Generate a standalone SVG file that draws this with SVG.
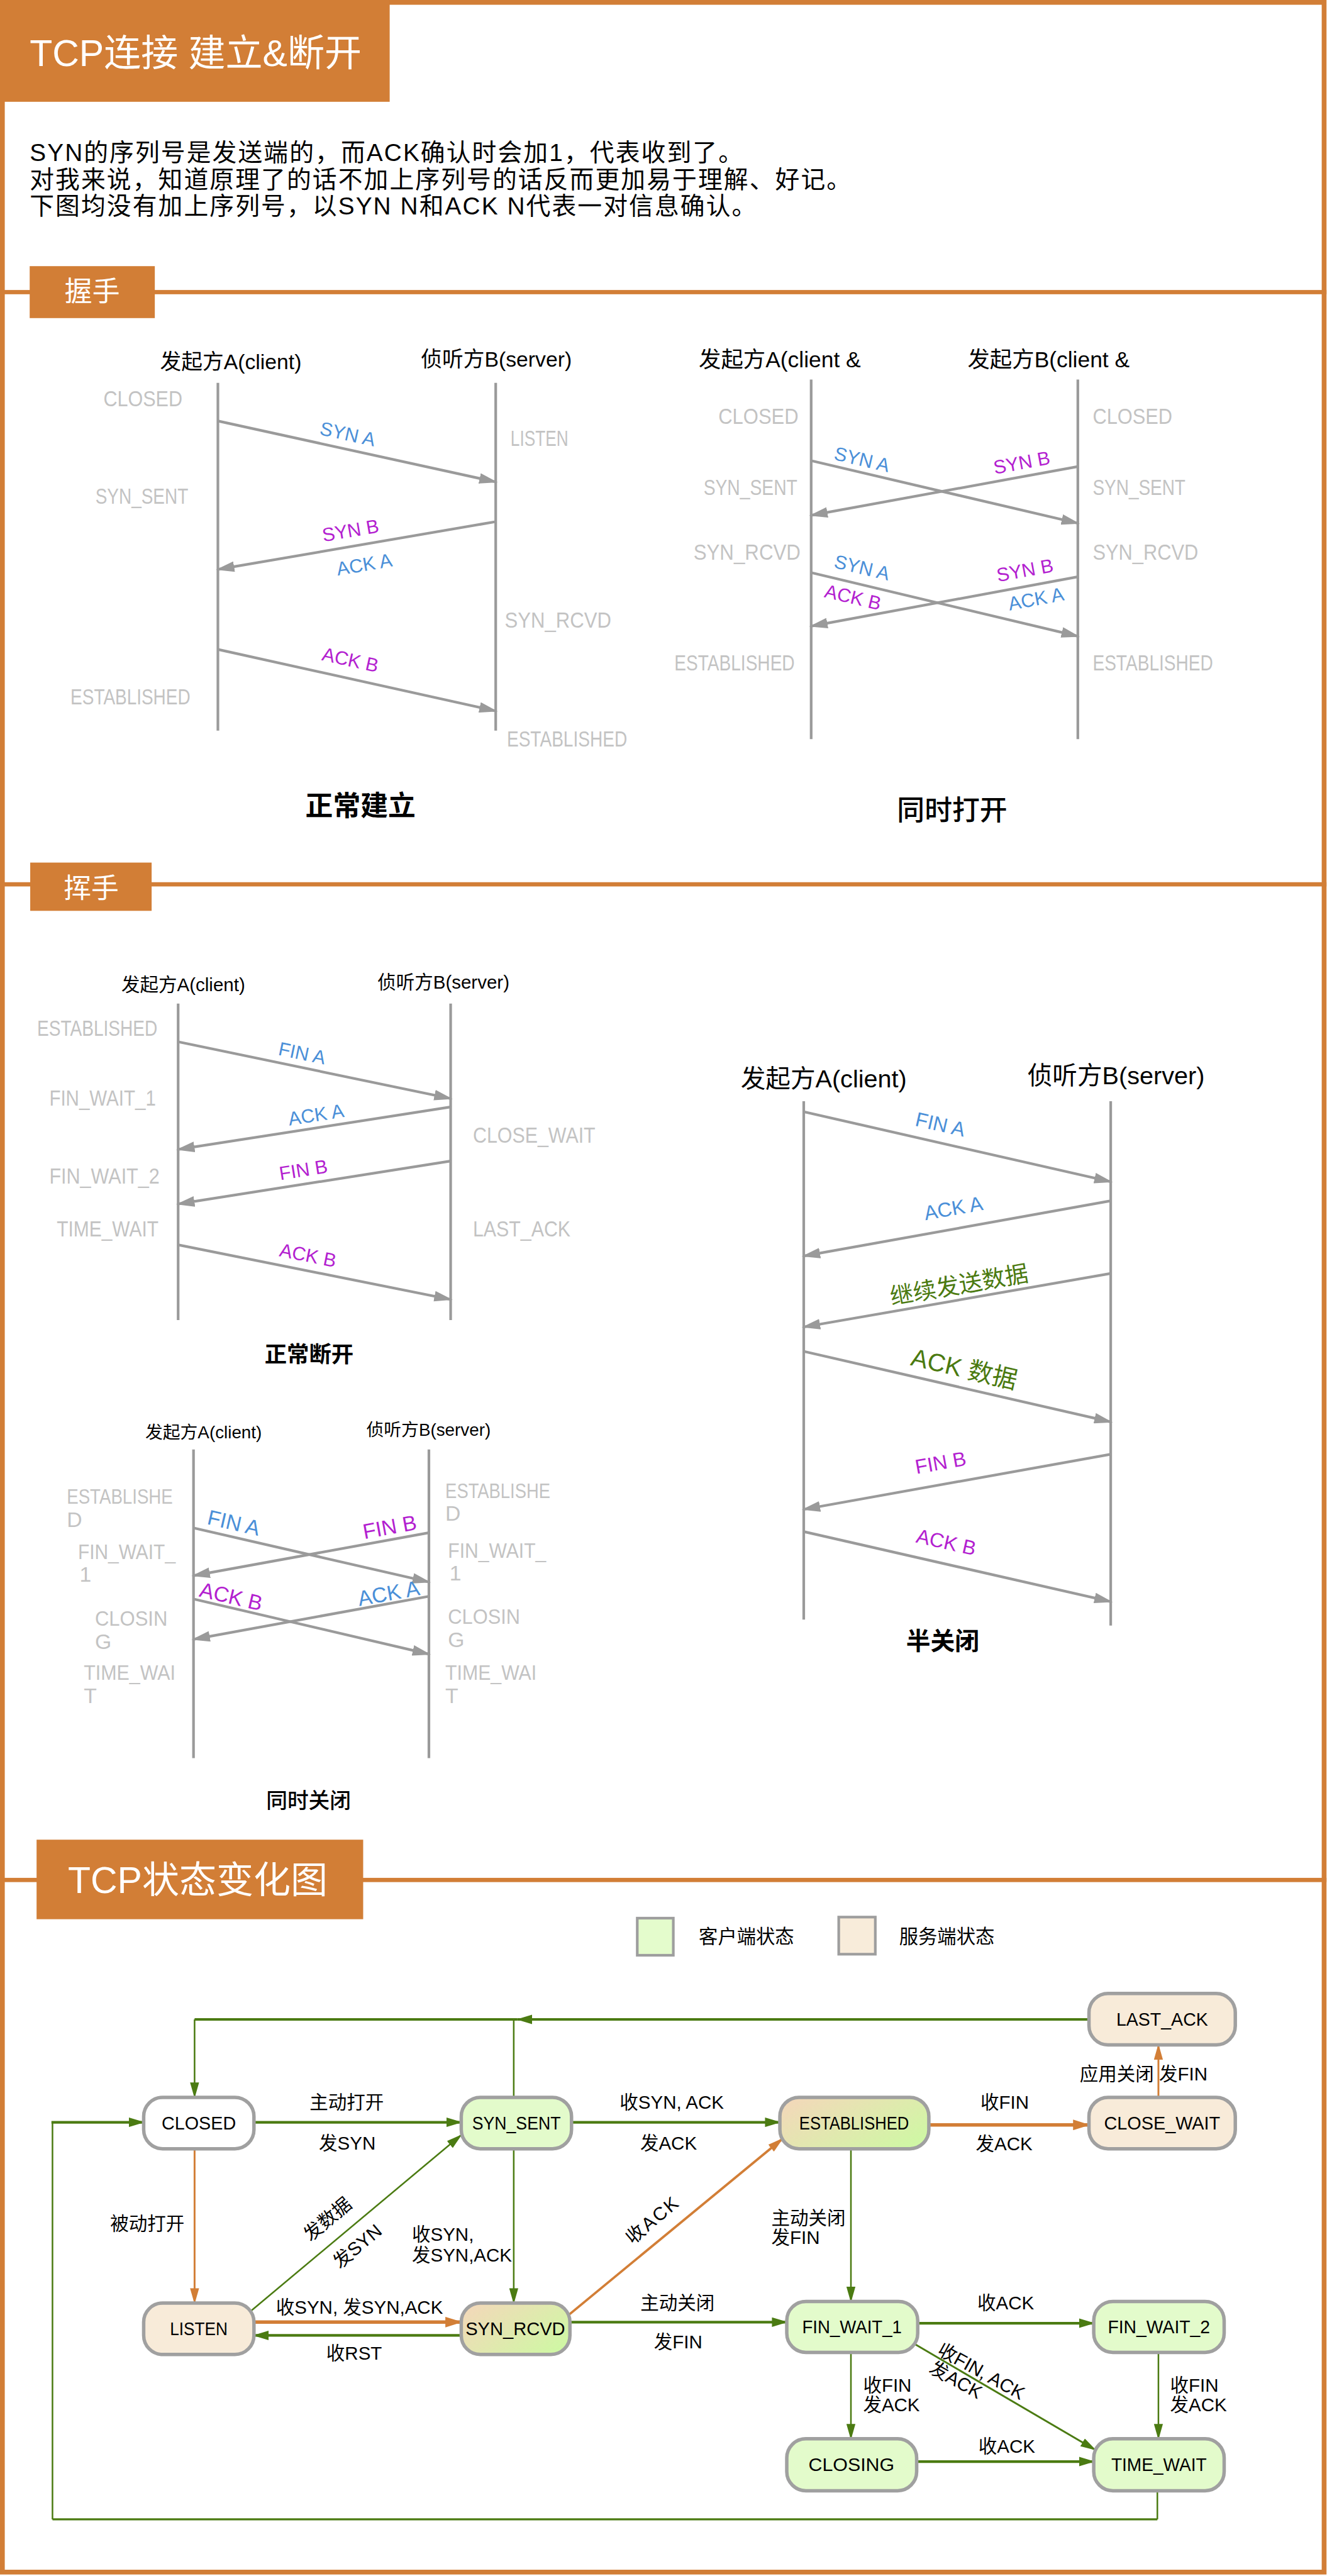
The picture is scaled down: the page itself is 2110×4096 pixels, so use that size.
<svg xmlns="http://www.w3.org/2000/svg" width="2110" height="4096" viewBox="0 0 2110 4096">
<defs>
<style>
.ll{stroke:#9a9a9a;stroke-width:5}
.msg{stroke:#9a9a9a;stroke-width:5;fill:none}
.st{font-family:"Liberation Sans",sans-serif;font-size:42px;fill:#c3c3c3}
.hd{font-family:"Liberation Sans","Noto Sans CJK SC",sans-serif;fill:#000}
.ml{font-family:"Liberation Sans","Noto Sans CJK SC",sans-serif;font-size:36px;text-anchor:middle}
.bl{fill:#4a8fd8}.mg{fill:#b31fd0}.dg{fill:#4b7a10}
.cap{font-family:"Noto Sans CJK SC",sans-serif;text-anchor:middle;fill:#000}
.sec{font-family:"Liberation Sans","Noto Sans CJK SC",sans-serif;fill:#fff}
.nd{stroke:#a0a0a0;stroke-width:6.5}
.nt{font-family:"Liberation Sans",sans-serif;font-size:36px;text-anchor:middle;fill:#000}
.lb{font-family:"Liberation Sans","Noto Sans CJK SC",sans-serif;font-size:35px;fill:#000}
.c{text-anchor:middle}
.gT{stroke:#4b7b12;stroke-width:5;fill:none}
.gt{stroke:#4b7b12;stroke-width:3;fill:none}
.oT{stroke:#d27e36;stroke-width:6.5;fill:none}
.ot{stroke:#d27e36;stroke-width:3.5;fill:none}
.or{fill:#d27e36}
</style>
<marker id="ag" markerUnits="userSpaceOnUse" markerWidth="36" markerHeight="20" refX="31" refY="10" orient="auto"><path d="M0,0 L35,10 L0,20 z" fill="#9a9a9a"/></marker>
<marker id="mgT" markerUnits="userSpaceOnUse" markerWidth="32" markerHeight="18" refX="28" refY="9" orient="auto"><path d="M0,0 L30,9 L0,18 z" fill="#4b7b12"/></marker>
<marker id="mgt" markerUnits="userSpaceOnUse" markerWidth="32" markerHeight="17" refX="28" refY="8.5" orient="auto"><path d="M0,0 L30,8.5 L0,17 z" fill="#4b7b12"/></marker>
<marker id="moT" markerUnits="userSpaceOnUse" markerWidth="34" markerHeight="20" refX="30" refY="10" orient="auto"><path d="M0,0 L32,10 L0,20 z" fill="#d27e36"/></marker>
<marker id="mot" markerUnits="userSpaceOnUse" markerWidth="32" markerHeight="17" refX="28" refY="8.5" orient="auto"><path d="M0,0 L30,8.5 L0,17 z" fill="#d27e36"/></marker>
<linearGradient id="mix" x1="0" y1="0.2" x2="1" y2="0.8"><stop offset="0" stop-color="#f2d9b9"/><stop offset="1" stop-color="#cff8a4"/></linearGradient>
</defs>
<rect x="0" y="0" width="2110" height="4096" fill="#fff"/>
<g transform="scale(0.843)">
<!-- frame -->
<rect x="4.5" y="4.5" width="2493" height="4847" fill="none" stroke="#d27e36" stroke-width="9"/>
<!-- title -->
<g id="title">
<rect x="0" y="0" width="735" height="192" class="or"/>
<text class="sec" x="56" y="125" font-size="70">TCP连接 建立&amp;断开</text>
</g>
<g id="intro" class="hd" font-size="46" letter-spacing="2.5">
<text x="56" y="304">SYN的序列号是发送端的，而ACK确认时会加1，代表收到了。</text>
<text x="56" y="355">对我来说，知道原理了的话不加上序列号的话反而更加易于理解、好记。</text>
<text x="56" y="405">下图均没有加上序列号，以SYN N和ACK N代表一对信息确认。</text>
</g>
<!-- section headers -->
<g id="sec-woshou">
<rect x="0" y="547" width="2502" height="8" class="or"/>
<rect x="56" y="502" width="236" height="98" class="or"/>
<text class="sec" x="174" y="568" font-size="52" text-anchor="middle">握手</text>
</g>
<g id="sec-huishou">
<rect x="0" y="1664" width="2502" height="8" class="or"/>
<rect x="57" y="1627" width="229" height="91" class="or"/>
<text class="sec" x="172" y="1694" font-size="52" text-anchor="middle">挥手</text>
</g>
<g id="sec-state">
<rect x="0" y="3542" width="2502" height="8" class="or"/>
<rect x="69" y="3470" width="616" height="150" class="or"/>
<text class="sec" x="128" y="3570" font-size="70">TCP状态变化图</text>
</g>

<!-- ===== 正常建立 ===== -->
<g id="normal-open">
<text class="hd" x="302" y="696" font-size="40">发起方A(client)</text>
<text class="hd" x="794" y="691" font-size="40">侦听方B(server)</text>
<line class="ll" x1="411" y1="722" x2="411" y2="1378"/>
<line class="ll" x1="935" y1="722" x2="935" y2="1378"/>
<text class="st" x="195" y="766" textLength="149" lengthAdjust="spacingAndGlyphs">CLOSED</text>
<text class="st" x="180" y="950" textLength="175" lengthAdjust="spacingAndGlyphs">SYN_SENT</text>
<text class="st" x="133" y="1328" textLength="226" lengthAdjust="spacingAndGlyphs">ESTABLISHED</text>
<text class="st" x="963" y="841" textLength="109" lengthAdjust="spacingAndGlyphs">LISTEN</text>
<text class="st" x="952" y="1184" textLength="201" lengthAdjust="spacingAndGlyphs">SYN_RCVD</text>
<text class="st" x="956" y="1408" textLength="227" lengthAdjust="spacingAndGlyphs">ESTABLISHED</text>
<line class="msg" x1="411" y1="794" x2="935" y2="909" marker-end="url(#ag)"/>
<line class="msg" x1="935" y1="984" x2="411" y2="1074" marker-end="url(#ag)"/>
<line class="msg" x1="411" y1="1225" x2="935" y2="1341" marker-end="url(#ag)"/>
<text class="ml bl" transform="translate(656,818) rotate(12.4)" y="13">SYN A</text>
<text class="ml mg" transform="translate(661,1000) rotate(-9.7)" y="13">SYN B</text>
<text class="ml bl" transform="translate(687,1064) rotate(-9.7)" y="13">ACK A</text>
<text class="ml mg" transform="translate(661,1244) rotate(12.5)" y="13">ACK B</text>
<text class="cap" x="680" y="1539" font-size="52" font-weight="bold">正常建立</text>
</g>

<!-- ===== 同时打开 ===== -->
<g id="simul-open">
<text class="hd" x="1318" y="693" font-size="42">发起方A(client &amp;</text>
<text class="hd" x="1825" y="693" font-size="42">发起方B(client &amp;</text>
<line class="ll" x1="1530" y1="716" x2="1530" y2="1394"/>
<line class="ll" x1="2033" y1="716" x2="2033" y2="1394"/>
<text class="st" x="1355" y="800" textLength="151" lengthAdjust="spacingAndGlyphs">CLOSED</text>
<text class="st" x="1327" y="934" textLength="177" lengthAdjust="spacingAndGlyphs">SYN_SENT</text>
<text class="st" x="1308" y="1056" textLength="202" lengthAdjust="spacingAndGlyphs">SYN_RCVD</text>
<text class="st" x="1272" y="1264" textLength="227" lengthAdjust="spacingAndGlyphs">ESTABLISHED</text>
<text class="st" x="2061" y="800" textLength="150" lengthAdjust="spacingAndGlyphs">CLOSED</text>
<text class="st" x="2061" y="934" textLength="175" lengthAdjust="spacingAndGlyphs">SYN_SENT</text>
<text class="st" x="2061" y="1056" textLength="199" lengthAdjust="spacingAndGlyphs">SYN_RCVD</text>
<text class="st" x="2061" y="1264" textLength="227" lengthAdjust="spacingAndGlyphs">ESTABLISHED</text>
<line class="msg" x1="1530" y1="869" x2="2033" y2="987" marker-end="url(#ag)"/>
<line class="msg" x1="2033" y1="880" x2="1530" y2="972" marker-end="url(#ag)"/>
<line class="msg" x1="1530" y1="1080" x2="2033" y2="1200" marker-end="url(#ag)"/>
<line class="msg" x1="2033" y1="1088" x2="1530" y2="1181" marker-end="url(#ag)"/>
<text class="ml bl" transform="translate(1626,866) rotate(13.2)" y="13">SYN A</text>
<text class="ml mg" transform="translate(1927,872) rotate(-10.4)" y="13">SYN B</text>
<text class="ml bl" transform="translate(1626,1070) rotate(13.4)" y="13">SYN A</text>
<text class="ml mg" transform="translate(1609,1126) rotate(13.4)" y="13">ACK B</text>
<text class="ml mg" transform="translate(1933,1075) rotate(-10.5)" y="13">SYN B</text>
<text class="ml bl" transform="translate(1954,1129) rotate(-10.5)" y="13">ACK A</text>
<text class="cap" x="1796" y="1547" font-size="52" font-weight="500">同时打开</text>
</g>

<!-- ===== 正常断开 ===== -->
<g id="normal-close">
<text class="hd" x="229" y="1870" font-size="35">发起方A(client)</text>
<text class="hd" x="712" y="1865" font-size="35">侦听方B(server)</text>
<line class="ll" x1="336" y1="1893" x2="336" y2="2490"/>
<line class="ll" x1="850" y1="1893" x2="850" y2="2490"/>
<text class="st" x="70" y="1954" textLength="227" lengthAdjust="spacingAndGlyphs">ESTABLISHED</text>
<text class="st" x="93" y="2085" textLength="201" lengthAdjust="spacingAndGlyphs">FIN_WAIT_1</text>
<text class="st" x="93" y="2233" textLength="208" lengthAdjust="spacingAndGlyphs">FIN_WAIT_2</text>
<text class="st" x="107" y="2332" textLength="192" lengthAdjust="spacingAndGlyphs">TIME_WAIT</text>
<text class="st" x="892" y="2155" textLength="231" lengthAdjust="spacingAndGlyphs">CLOSE_WAIT</text>
<text class="st" x="892" y="2332" textLength="184" lengthAdjust="spacingAndGlyphs">LAST_ACK</text>
<line class="msg" x1="336" y1="1965" x2="850" y2="2072" marker-end="url(#ag)"/>
<line class="msg" x1="850" y1="2088" x2="336" y2="2168" marker-end="url(#ag)"/>
<line class="msg" x1="850" y1="2190" x2="336" y2="2271" marker-end="url(#ag)"/>
<line class="msg" x1="336" y1="2348" x2="850" y2="2451" marker-end="url(#ag)"/>
<text class="ml bl" transform="translate(570,1986) rotate(11.8)" y="13">FIN A</text>
<text class="ml bl" transform="translate(596,2102) rotate(-8.8)" y="13">ACK A</text>
<text class="ml mg" transform="translate(572,2206) rotate(-9)" y="13">FIN B</text>
<text class="ml mg" transform="translate(581,2367) rotate(11.4)" y="13">ACK B</text>
<text class="cap" x="583" y="2569" font-size="42" font-weight="bold">正常断开</text>
</g>

<!-- ===== 半关闭 ===== -->
<g id="half-close">
<text class="hd" x="1397" y="2051" font-size="47">发起方A(client)</text>
<text class="hd" x="1938" y="2045" font-size="47">侦听方B(server)</text>
<line class="ll" x1="1516" y1="2077" x2="1516" y2="3055"/>
<line class="ll" x1="2095" y1="2077" x2="2095" y2="3066"/>
<line class="msg" x1="1516" y1="2097" x2="2095" y2="2229" marker-end="url(#ag)"/>
<line class="msg" x1="2095" y1="2265" x2="1516" y2="2369" marker-end="url(#ag)"/>
<line class="msg" x1="2095" y1="2402" x2="1516" y2="2503" marker-end="url(#ag)"/>
<line class="msg" x1="1516" y1="2549" x2="2095" y2="2682" marker-end="url(#ag)"/>
<line class="msg" x1="2095" y1="2743" x2="1516" y2="2847" marker-end="url(#ag)"/>
<line class="msg" x1="1516" y1="2889" x2="2095" y2="3021" marker-end="url(#ag)"/>
<text class="ml bl" style="font-size:38px" transform="translate(1774,2120) rotate(12.8)" y="14">FIN A</text>
<text class="ml bl" style="font-size:38px" transform="translate(1798,2278) rotate(-10.2)" y="14">ACK A</text>
<text class="ml dg" style="font-size:44px" transform="translate(1809,2423) rotate(-9.9)" y="16">继续发送数据</text>
<text class="ml dg" style="font-size:47px" transform="translate(1819,2581) rotate(12.9)" y="17">ACK 数据</text>
<text class="ml mg" style="font-size:38px" transform="translate(1774,2758) rotate(-10.2)" y="14">FIN B</text>
<text class="ml mg" style="font-size:38px" transform="translate(1785,2908) rotate(12.8)" y="14">ACK B</text>
<text class="cap" x="1778" y="3111" font-size="46" font-weight="bold">半关闭</text>
</g>

<!-- ===== 同时关闭 ===== -->
<g id="simul-close">
<text class="hd" x="274" y="2713" font-size="33">发起方A(client)</text>
<text class="hd" x="691" y="2708" font-size="33">侦听方B(server)</text>
<line class="ll" x1="365" y1="2734" x2="365" y2="3316"/>
<line class="ll" x1="809" y1="2734" x2="809" y2="3316"/>
<g class="st" style="font-size:40px">
<text x="126" y="2836" textLength="200" lengthAdjust="spacingAndGlyphs">ESTABLISHE</text>
<text x="126" y="2880">D</text>
<text x="147" y="2941" textLength="184" lengthAdjust="spacingAndGlyphs">FIN_WAIT_</text>
<text x="150" y="2983">1</text>
<text x="179" y="3066" textLength="137" lengthAdjust="spacingAndGlyphs">CLOSIN</text>
<text x="179" y="3110">G</text>
<text x="158" y="3168" textLength="173" lengthAdjust="spacingAndGlyphs">TIME_WAI</text>
<text x="158" y="3212">T</text>
<text x="840" y="2826" textLength="198" lengthAdjust="spacingAndGlyphs">ESTABLISHE</text>
<text x="840" y="2868">D</text>
<text x="845" y="2938" textLength="185" lengthAdjust="spacingAndGlyphs">FIN_WAIT_</text>
<text x="848" y="2981">1</text>
<text x="845" y="3063" textLength="136" lengthAdjust="spacingAndGlyphs">CLOSIN</text>
<text x="845" y="3107">G</text>
<text x="840" y="3168" textLength="172" lengthAdjust="spacingAndGlyphs">TIME_WAI</text>
<text x="840" y="3212">T</text>
</g>
<line class="msg" x1="365" y1="2882" x2="809" y2="2984" marker-end="url(#ag)"/>
<line class="msg" x1="809" y1="2891" x2="365" y2="2972" marker-end="url(#ag)"/>
<line class="msg" x1="365" y1="3016" x2="809" y2="3120" marker-end="url(#ag)"/>
<line class="msg" x1="809" y1="3011" x2="365" y2="3092" marker-end="url(#ag)"/>
<text class="ml bl" style="font-size:40px" transform="translate(441,2872) rotate(12.9)" y="14">FIN A</text>
<text class="ml mg" style="font-size:40px" transform="translate(735,2880) rotate(-10.3)" y="14">FIN B</text>
<text class="ml mg" style="font-size:40px" transform="translate(436,3011) rotate(13.2)" y="14">ACK B</text>
<text class="ml bl" style="font-size:40px" transform="translate(733,3005) rotate(-10.3)" y="14">ACK A</text>
<text class="cap" x="582" y="3410" font-size="40" font-weight="500">同时关闭</text>
</g>

<!-- ===== legend ===== -->
<g id="legend">
<rect x="1202" y="3618" width="68" height="70" fill="#e4fccc" stroke="#9e9e9e" stroke-width="5"/>
<text class="lb" x="1318" y="3665" style="font-size:36px">客户端状态</text>
<rect x="1582" y="3616" width="69" height="70" fill="#f8ecda" stroke="#9e9e9e" stroke-width="5"/>
<text class="lb" x="1696" y="3665" style="font-size:36px">服务端状态</text>
</g>

<!-- ===== connectors ===== -->
<g id="connectors">
<path class="gT" d="M2054,3809 H976" marker-end="url(#mgT)"/>
<path class="gT" d="M976,3809 H367"/>
<path class="gt" d="M367,3809 V3956" marker-end="url(#mgt)"/>
<path class="gt" d="M969,3956 V3809"/>
<path class="gT" d="M479,4003 H870" marker-end="url(#mgT)"/>
<path class="gT" d="M1079,4003 H1471" marker-end="url(#mgT)"/>
<path class="oT" d="M1752,4008 H2054" marker-end="url(#moT)"/>
<path class="ot" d="M2185,3956 V3857" marker-end="url(#mot)"/>
<path class="ot" d="M367,4053 V4344" marker-end="url(#mot)"/>
<path class="gt" d="M472,4360 L870,4027" marker-end="url(#mgt)"/>
<path class="oT" d="M479,4380 H870" marker-end="url(#moT)"/>
<path class="gT" d="M870,4405 H479" marker-end="url(#mgT)"/>
<path class="gt" d="M969,4053 V4344" marker-end="url(#mgt)"/>
<path class="ot" style="stroke-width:4.5" d="M1072,4367 L1476,4034" marker-end="url(#mot)"/>
<path class="gt" d="M1605,4053 V4341" marker-end="url(#mgt)"/>
<path class="gT" d="M1075,4380 H1484" marker-end="url(#mgT)"/>
<path class="gT" d="M1731,4382 H2063" marker-end="url(#mgT)"/>
<path class="gt" d="M1605,4437 V4600" marker-end="url(#mgt)"/>
<path class="gt" style="stroke-width:3.5" d="M1723,4420 L2066,4621" marker-end="url(#mgt)"/>
<path class="gt" d="M2185,4437 V4600" marker-end="url(#mgt)"/>
<path class="gT" d="M1728,4643 H2063" marker-end="url(#mgT)"/>
<path class="gt" d="M2183,4698 V4752"/>
<path class="gt" style="stroke-width:4" d="M2183,4752 H99"/>
<path class="gt" d="M99,4752 V4003"/>
<path class="gT" d="M97,4003 H271" marker-end="url(#mgT)"/>
</g>

<!-- connector labels -->
<g id="conn-labels" class="lb">
<text class="c" x="654" y="3978">主动打开</text>
<text class="c" x="655" y="4054">发SYN</text>
<text class="c" x="1267" y="3978">收SYN, ACK</text>
<text class="c" x="1261" y="4054">发ACK</text>
<text class="c" x="1895" y="3978">收FIN</text>
<text class="c" x="1894" y="4056">发ACK</text>
<text class="c" x="2157" y="3924">应用关闭 发FIN</text>
<text class="c" x="278" y="4206">被动打开</text>
<text class="c" transform="translate(618,4186) rotate(-40)" y="12">发数据</text>
<text class="c" transform="translate(674,4237) rotate(-40)" y="12">发SYN</text>
<text x="777" y="4227">收SYN,</text>
<text x="777" y="4266">发SYN,ACK</text>
<text class="c" x="678" y="4364">收SYN, 发SYN,ACK</text>
<text class="c" x="668" y="4451">收RST</text>
<text class="c" transform="translate(1231,4187) rotate(-40)" y="12" letter-spacing="3">收ACK</text>
<text x="1455" y="4196">主动关闭</text>
<text x="1455" y="4233">发FIN</text>
<text class="c" x="1278" y="4356">主动关闭</text>
<text class="c" x="1279" y="4430">发FIN</text>
<text class="c" x="1897" y="4356">收ACK</text>
<text x="1628" y="4511">收FIN</text>
<text x="1628" y="4548">发ACK</text>
<text class="c" transform="translate(1851,4473) rotate(29)" y="12">收FIN, ACK</text>
<text class="c" transform="translate(1803,4489) rotate(29)" y="12">发ACK</text>
<text x="2207" y="4511">收FIN</text>
<text x="2207" y="4548">发ACK</text>
<text class="c" x="1899" y="4626">收ACK</text>
</g>

<!-- ===== nodes ===== -->
<g id="n-last-ack"><rect class="nd" x="2054" y="3760" width="276" height="97" rx="36" fill="#f8ebd9"/><text class="nt" x="2192" y="3821" textLength="173" lengthAdjust="spacingAndGlyphs">LAST_ACK</text></g>
<g id="n-closed"><rect class="nd" x="271" y="3956" width="208" height="97" rx="36" fill="#ffffff"/><text class="nt" x="375" y="4017" textLength="140" lengthAdjust="spacingAndGlyphs">CLOSED</text></g>
<g id="n-syn-sent"><rect class="nd" x="870" y="3956" width="208" height="97" rx="36" fill="#e3fbcb"/><text class="nt" x="974" y="4017" textLength="167" lengthAdjust="spacingAndGlyphs">SYN_SENT</text></g>
<g id="n-established"><rect class="nd" x="1471" y="3956" width="281" height="97" rx="36" fill="url(#mix)"/><text class="nt" x="1611" y="4017" textLength="207" lengthAdjust="spacingAndGlyphs">ESTABLISHED</text></g>
<g id="n-close-wait"><rect class="nd" x="2054" y="3956" width="276" height="97" rx="36" fill="#f8ebd9"/><text class="nt" x="2192" y="4017" textLength="219" lengthAdjust="spacingAndGlyphs">CLOSE_WAIT</text></g>
<g id="n-listen"><rect class="nd" x="271" y="4344" width="208" height="97" rx="36" fill="#f8ebd9"/><text class="nt" x="375" y="4405" textLength="109" lengthAdjust="spacingAndGlyphs">LISTEN</text></g>
<g id="n-syn-rcvd"><rect class="nd" x="870" y="4344" width="205" height="97" rx="36" fill="url(#mix)"/><text class="nt" x="972" y="4405" textLength="188" lengthAdjust="spacingAndGlyphs">SYN_RCVD</text></g>
<g id="n-fin-wait-1"><rect class="nd" x="1484" y="4341" width="247" height="96" rx="36" fill="#e3fbcb"/><text class="nt" x="1607" y="4401" textLength="188" lengthAdjust="spacingAndGlyphs">FIN_WAIT_1</text></g>
<g id="n-fin-wait-2"><rect class="nd" x="2063" y="4341" width="246" height="96" rx="36" fill="#e3fbcb"/><text class="nt" x="2186" y="4401" textLength="193" lengthAdjust="spacingAndGlyphs">FIN_WAIT_2</text></g>
<g id="n-closing"><rect class="nd" x="1484" y="4600" width="245" height="98" rx="36" fill="#e3fbcb"/><text class="nt" x="1606" y="4661" textLength="162" lengthAdjust="spacingAndGlyphs">CLOSING</text></g>
<g id="n-time-wait"><rect class="nd" x="2063" y="4600" width="246" height="98" rx="36" fill="#e3fbcb"/><text class="nt" x="2186" y="4661" textLength="180" lengthAdjust="spacingAndGlyphs">TIME_WAIT</text></g>
</g>
</svg>
